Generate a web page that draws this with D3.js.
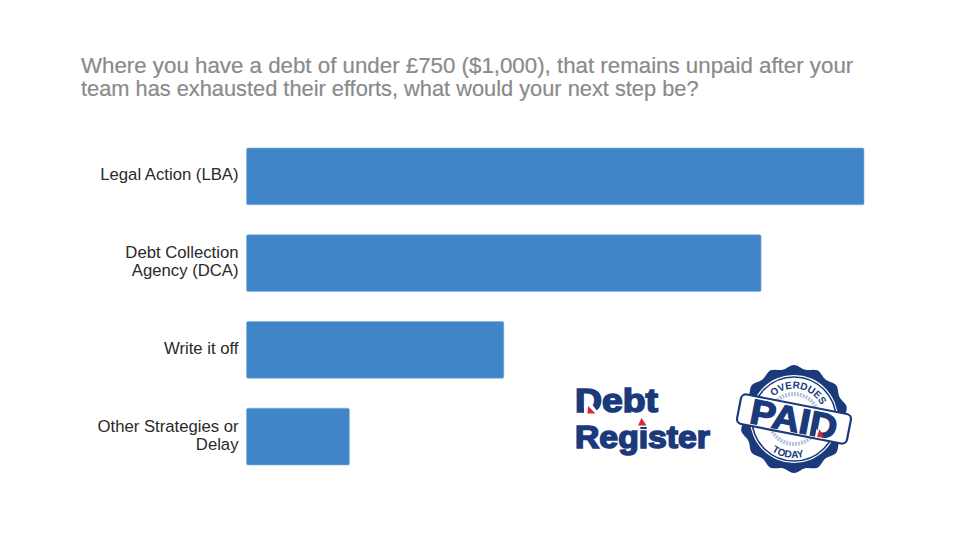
<!DOCTYPE html>
<html><head><meta charset="utf-8">
<script src="https://cdn.jsdelivr.net/npm/d3@7/dist/d3.min.js"></script>
<style>html,body{margin:0;background:#fff}svg{display:block}text{font-family:"Liberation Sans",Arial,sans-serif}</style>
</head><body><svg id="c" width="960" height="540"></svg>
<script>
const titleLines = ["Where you have a debt of under £750 ($1,000), that remains unpaid after your","team has exhausted their efforts, what would your next step be?"];
const categories = ["Legal Action (LBA)","Debt Collection|Agency (DCA)","Write it off","Other Strategies or|Delay"];
const values = [36,30,15,6];
const navy = "#1b3a7c", red = "#d9272e", blue = "#3f85c8";
const svg = d3.select("#c");
svg.append("g").selectAll("text").data(titleLines).join("text")
  .attr("x",81).attr("y",(d,i)=>72.6+i*23).attr("font-size",(d,i)=>i?21.8:22.3)
  .attr("fill","#8a8a8a").attr("stroke","#8a8a8a").attr("stroke-width",0.2).text(d=>d);
const x = d3.scaleLinear().domain([0,36]).range([246.5,864]);
const y = d3.scaleBand().domain(categories).range([148,465]).paddingInner(0.345);
svg.append("g").selectAll("rect").data(categories).join("rect")
  .attr("x",x(0)).attr("y",d=>y(d)).attr("width",(d,i)=>x(values[i])-x(0)).attr("height",y.bandwidth())
  .attr("rx",1.5).attr("fill",blue).attr("stroke","#7fb3e0").attr("stroke-width",0.6);
const lab = svg.append("g").selectAll("text").data(categories).join("text")
  .attr("text-anchor","end").attr("font-size",16.7).attr("fill","#2a2a2a");
lab.each(function(d){
  const parts=d.split("|"), yc=y(d)+y.bandwidth()/2;
  d3.select(this).selectAll("tspan").data(parts).join("tspan")
    .attr("x",238.5).attr("y",(p,i)=>yc+4-(parts.length-1)*9+i*18).text(p=>p);
});
// Debt Register logo
const logo = svg.append("g");
logo.append("text").attr("x",575).attr("y",412).attr("font-size",33).attr("font-weight",700).attr("fill",navy).attr("stroke",navy).attr("stroke-width",1.6).attr("textLength",83).attr("lengthAdjust","spacingAndGlyphs").text("Debt");
logo.append("text").attr("x",575).attr("y",448).attr("font-size",31).attr("font-weight",700).attr("fill",navy).attr("stroke",navy).attr("stroke-width",1.6).attr("textLength",135).attr("lengthAdjust","spacingAndGlyphs").text("Register");
logo.append("path").attr("d","M584,413.5L584,405L591,403L599,413.5Z").attr("fill","#fff");
logo.append("path").attr("d","M588,406L595.5,413.5H587.5Z").attr("fill",red);
logo.append("path").attr("d","M636,414H648V427H636Z").attr("fill","#fff");
logo.append("path").attr("d","M641.5,418L646.5,425.5H638Z").attr("fill",red);
// Seal
const cx=794, cy=419;
const seal = svg.append("g").attr("transform",`translate(${cx},${cy})`);
const scallop = d3.lineRadial().curve(d3.curveCardinalClosed)(d3.range(0,28).map(i=>[i/28*2*Math.PI,i%2===0?54:50.5]));
seal.append("path").attr("d",scallop).attr("fill",navy);
seal.append("circle").attr("r",44).attr("fill","#fff");
seal.append("circle").attr("r",42).attr("fill","none").attr("stroke",navy).attr("stroke-width",1.6);
seal.append("circle").attr("r",25).attr("fill","none").attr("stroke","#b4c1da").attr("stroke-width",4).attr("stroke-dasharray","2 1");
const defs = svg.append("defs");
defs.append("path").attr("id","arcTop").attr("d","M-30.5,0A30.5,30.5 0 0 1 30.5,0");
defs.append("path").attr("id","arcBot").attr("d","M-39,0A39,39 0 0 0 39,0");
const rot = seal.append("g").attr("transform","rotate(10)");
rot.append("text").attr("font-size",10).attr("font-weight",700).attr("fill",navy).attr("text-anchor","middle")
  .append("textPath").attr("href","#arcTop").attr("startOffset","50%").text("OVERDUES");
rot.append("text").attr("font-size",10).attr("font-weight",700).attr("fill",navy).attr("text-anchor","middle")
  .append("textPath").attr("href","#arcBot").attr("startOffset","50%").text("TODAY");
const band = seal.append("g").attr("transform","rotate(11)");
band.append("rect").attr("x",-56).attr("y",-15).attr("width",112).attr("height",30).attr("rx",5).attr("fill","#fff").attr("stroke",navy).attr("stroke-width",2.2);
band.append("text").attr("x",0).attr("y",12.5).attr("text-anchor","middle").attr("font-size",35).attr("font-weight",700).attr("fill",navy).attr("stroke",navy).attr("stroke-width",1.4).attr("textLength",88).attr("lengthAdjust","spacingAndGlyphs").text("PAID");
band.append("path").attr("d","M24,5L32,14H24Z").attr("fill","#fff");
band.append("path").attr("d","M27,5L33,13H26Z").attr("fill",red);
</script></body></html>
